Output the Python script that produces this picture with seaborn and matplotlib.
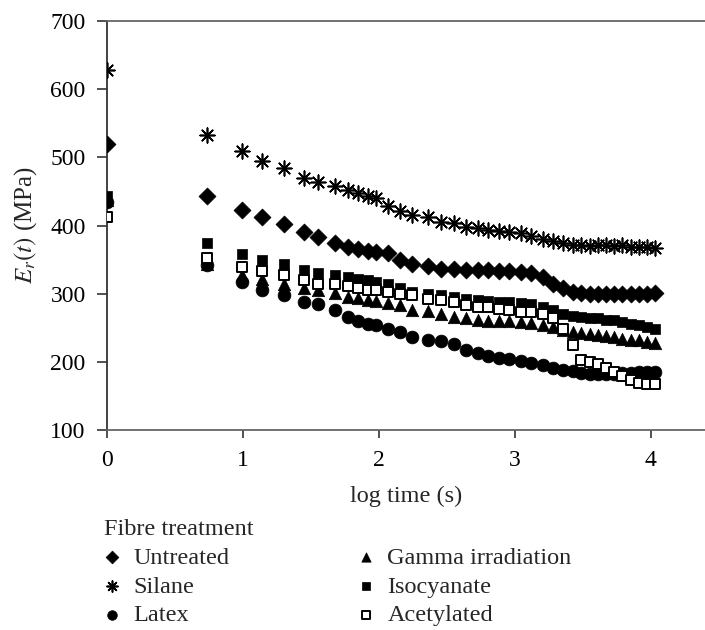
import numpy as np
import pandas as pd
import seaborn as sns
import matplotlib.pyplot as plt

sns.set_style("ticks")
plt.rcParams['font.family'] = ['Liberation Serif', 'DejaVu Serif']
plt.rcParams['mathtext.fontset'] = 'stix'

# log time (s) - shared sampling points
log_t = [0, 0.735, 0.99, 1.14, 1.30, 1.45, 1.555, 1.675, 1.77, 1.845, 1.92, 1.98,
         2.065, 2.157, 2.245, 2.36, 2.46, 2.556, 2.643, 2.728, 2.80, 2.887, 2.96,
         3.047, 3.12, 3.206, 3.28, 3.355, 3.43, 3.49, 3.55, 3.61, 3.67, 3.73,
         3.79, 3.855, 3.915, 3.975, 4.03]

untreated = [520, 444, 423, 413, 402, 391, 383, 375, 369, 366, 363, 361,
             360, 350, 343, 340, 337, 337, 335, 335, 335, 334, 334,
             332, 330, 324, 315, 308, 303, 301, 300, 300, 300, 300,
             300, 300, 300, 300, 301]
silane = [628, 532, 509, 494, 484, 469, 464, 458, 452, 447, 443, 440,
          428, 421, 415, 412, 405, 403, 398, 396, 394, 392, 390,
          389, 385, 380, 377, 374, 372, 371, 370, 372, 371, 370,
          371, 369, 368, 368, 367]
latex = [435, 342, 318, 305, 298, 288, 285, 276, 266, 260, 256, 254,
         249, 244, 237, 233, 231, 226, 217, 213, 209, 206, 204,
         202, 199, 195, 192, 189, 187, 184, 182, 182, 183, 183,
         184, 184, 185, 185, 185]
gamma = [438, 343, 328, 322, 315, 309, 306, 301, 296, 294, 291, 290,
         287, 283, 276, 275, 271, 266, 264, 261, 260, 260, 260,
         259, 257, 254, 251, 247, 244, 242, 241, 239, 238, 237,
         234, 233, 232, 230, 228]
isocyanate = [443, 374, 358, 350, 343, 335, 330, 327, 324, 322, 320, 318,
              314, 308, 303, 300, 298, 295, 293, 291, 290, 288, 288,
              286, 285, 281, 276, 271, 268, 266, 265, 264, 261, 261,
              259, 256, 254, 251, 249]
acetylated = [412, 352, 339, 333, 327, 320, 315, 314, 311, 308, 306, 305,
              303, 300, 298, 293, 291, 288, 284, 281, 280, 277, 276,
              274, 273, 271, 264, 249, 225, 203, 200, 197, 192, 186,
              179, 174, 169, 168, 168]

series = [
    ("Untreated", untreated, "D", 75, "black"),
    ("Silane", silane, (8, 2, 0), 110, "black"),
    ("Latex", latex, "o", 85, "black"),
    ("Gamma irradiation", gamma, "^", 80, "black"),
    ("Isocyanate", isocyanate, "s", 62, "black"),
    ("Acetylated", acetylated, "s", 60, "white"),
]

fig = plt.figure(figsize=(7.05, 6.3), dpi=100)
ax = fig.add_axes([0.152, 0.317, 0.848, 0.650])

for name, vals, mk, size, face in series:
    df = pd.DataFrame({"log_t": log_t, "E": vals})
    if mk == "s" and face == "white":
        sns.scatterplot(data=df, x="log_t", y="E", marker=mk, s=size,
                        facecolor="white", edgecolor="black", linewidth=1.4,
                        label=name, ax=ax, zorder=3)
    elif isinstance(mk, tuple):
        sns.scatterplot(data=df, x="log_t", y="E", marker=mk, s=size,
                        color="black", linewidth=1.2, label=name, ax=ax,
                        zorder=3)
    else:
        sns.scatterplot(data=df, x="log_t", y="E", marker=mk, s=size,
                        color="black", edgecolor="black", linewidth=0.5,
                        label=name, ax=ax, zorder=3)

ax.set_xlim(0, 4.40)
ax.set_ylim(100, 700)
ax.set_xticks([0, 1, 2, 3, 4])
ax.set_yticks([100, 200, 300, 400, 500, 600, 700])
ax.tick_params(labelsize=17, width=1.2, colors="#333333", labelcolor="black")
ax.tick_params(axis="x", length=6, pad=8)
ax.tick_params(axis="y", length=7.5, pad=8)
ax.set_xlabel("log time (s)", fontsize=17.5, labelpad=11)
ax.set_ylabel(r"$E_r(t)$ (MPa)", fontsize=18, labelpad=8)

ax.spines["right"].set_visible(False)
ax.spines["left"].set_color("#333333")
for side in ["top", "bottom"]:
    ax.spines[side].set_color("#666666")
for side in ["left", "top", "bottom"]:
    ax.spines[side].set_linewidth(1.3)

handles, labels = ax.get_legend_handles_labels()
ax.get_legend().remove()
fig.legend(handles, labels, ncol=2, loc="upper left",
           bbox_to_anchor=(0.148, 1 - 519 / 630), frameon=False,
           title="Fibre treatment", title_fontsize=17.5, fontsize=17.5,
           alignment="left", handlelength=0.65, handletextpad=0.55,
           columnspacing=5.3, labelspacing=0.28, borderpad=0,
           borderaxespad=0, markerscale=0.75)

fig.savefig("out.png", dpi=100)
